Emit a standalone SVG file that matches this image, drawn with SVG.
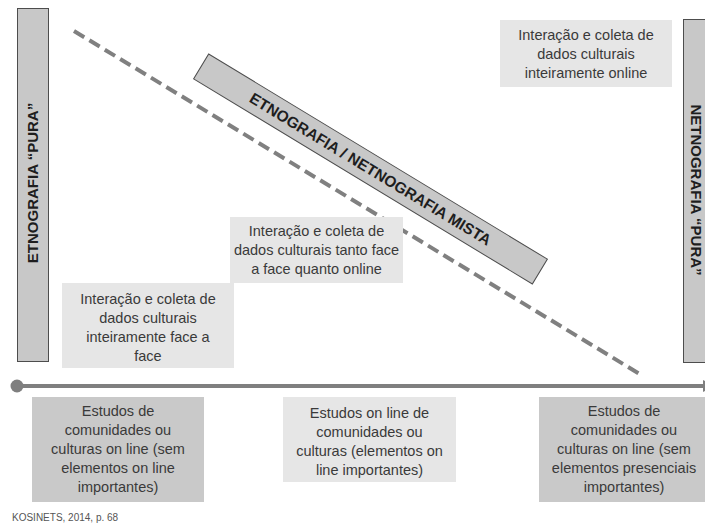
<svg xmlns="http://www.w3.org/2000/svg" width="705" height="526" viewBox="0 0 705 526">
<style>
.bar{fill:#c8c8c8;stroke:#4d4d4d;stroke-width:1}
.light{fill:#e6e6e6}
.dark{fill:#c9c9c9}
.t{font-family:"Liberation Sans",Arial,sans-serif;font-size:14.5px;fill:#3a3a3a;text-anchor:middle}
.b{font-family:"Liberation Sans",Arial,sans-serif;font-weight:bold;font-size:15px;fill:#1e1e1e;text-anchor:middle}
</style>
<rect width="705" height="526" fill="#ffffff"/>
<g id="connectors">
<line x1="74" y1="31" x2="643" y2="376" stroke="#808080" stroke-width="4" stroke-dasharray="12 6"/>
<line x1="17" y1="386" x2="704" y2="386" stroke="#7f7f7f" stroke-width="4"/>
<circle cx="17" cy="386" r="6.5" fill="#7f7f7f"/>
<polygon points="703,380 715,386 703,392" fill="#7f7f7f"/>
</g>
<g id="etnografia-pura">
<rect class="bar" x="17.5" y="8.5" width="31" height="353"/>
<text class="b" transform="translate(37.5,183) rotate(-90)">ETNOGRAFIA “PURA”</text>
</g>
<g id="netnografia-pura">
<rect class="bar" x="683.5" y="19.5" width="31" height="343"/>
<text class="b" transform="translate(690.5,190) rotate(90)">NETNOGRAFIA “PURA”</text>
</g>
<g id="mista">
<g transform="translate(370.5,169) rotate(31.2)">
<rect class="bar" x="-198" y="-14.5" width="396" height="29"/>
<text class="b" style="font-size:15.5px" x="0" y="5.5">ETNOGRAFIA / NETNOGRAFIA MISTA</text>
</g>
</g>
<g id="online-box">
<rect class="light" x="500" y="20" width="172" height="67"/>
<text class="t" x="586" y="40">Interação e coleta de</text>
<text class="t" x="586" y="59">dados culturais</text>
<text class="t" x="586" y="78">inteiramente online</text>
</g>
<g id="ambos-box">
<rect class="light" x="230" y="217" width="173" height="66"/>
<text class="t" x="316.5" y="236">Interação e coleta de</text>
<text class="t" x="316.5" y="255">dados culturais tanto face</text>
<text class="t" x="316.5" y="274">a face quanto  online</text>
</g>
<g id="face-box">
<rect class="light" x="62" y="283" width="172" height="85"/>
<text class="t" x="148" y="304">Interação e coleta de</text>
<text class="t" x="148" y="323">dados culturais</text>
<text class="t" x="148" y="342">inteiramente face a</text>
<text class="t" x="148" y="361">face</text>
</g>
<g id="estudos-esquerda">
<rect class="dark" x="32" y="397" width="172" height="105"/>
<text class="t" x="118" y="416">Estudos de</text>
<text class="t" x="118" y="435">comunidades ou</text>
<text class="t" x="118" y="454">culturas on line (sem</text>
<text class="t" x="118" y="473">elementos on line</text>
<text class="t" x="118" y="492">importantes)</text>
</g>
<g id="estudos-meio">
<rect class="light" x="283" y="397" width="173" height="85"/>
<text class="t" x="369.5" y="418">Estudos on line de</text>
<text class="t" x="369.5" y="437">comunidades  ou</text>
<text class="t" x="369.5" y="456">culturas (elementos on</text>
<text class="t" x="369.5" y="475">line importantes)</text>
</g>
<g id="estudos-direita">
<rect class="dark" x="539" y="397" width="172" height="105"/>
<text class="t" x="624" y="416">Estudos de</text>
<text class="t" x="624" y="435">comunidades ou</text>
<text class="t" x="624" y="454">culturas on line (sem</text>
<text class="t" x="624" y="473">elementos presenciais</text>
<text class="t" x="624" y="492">importantes)</text>
</g>
<text x="12" y="521" style="font-family:'Liberation Sans',Arial,sans-serif;font-size:10px;fill:#555">KOSINETS, 2014, p. 68</text>
</svg>
